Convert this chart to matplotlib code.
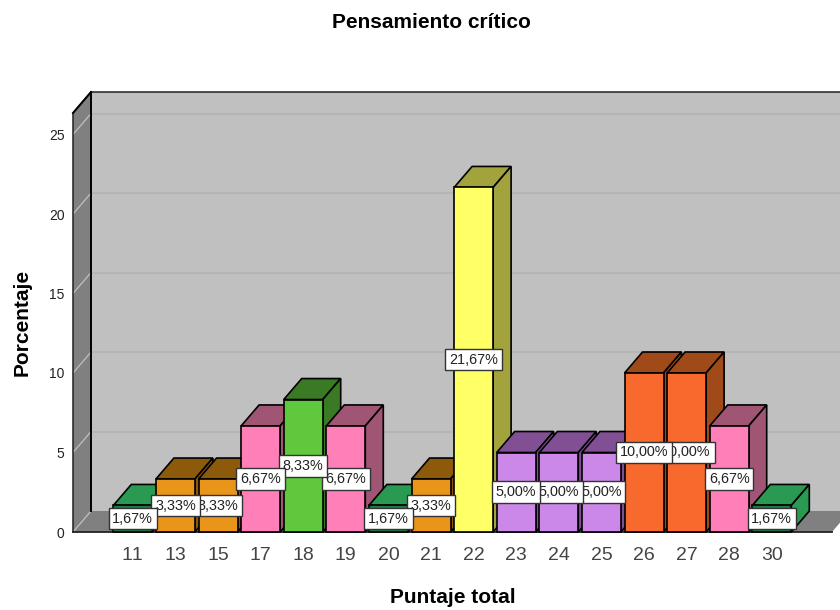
"""
Pensamiento critico - 3D style bar chart (percent per total score)
"""

import matplotlib
matplotlib.use("Agg")
import matplotlib.pyplot as plt
from matplotlib.patches import Polygon

plt.rcParams["font.family"] = ["Liberation Sans", "DejaVu Sans"]
plt.rcParams["text.kerning_factor"] = 6

# ── data ──────────────────────────────────────
puntajes = ["11", "13", "15", "17", "18", "19", "20", "21",
            "22", "23", "24", "25", "26", "27", "28", "30"]
porcentajes = [1.67, 3.33, 3.33, 6.67, 8.33, 6.67, 1.67, 3.33,
               21.67, 5.00, 5.00, 5.00, 10.00, 10.00, 6.67, 1.67]
y_ticks = [0, 5, 10, 15, 20, 25]

# ── colours (front, top/side) ─────────────────
VERDE = ("#1f7a45", "#2a9a52")
NARANJA = ("#e8951a", "#8c5a0a")
ROSA = ("#ff80b8", "#a05575")
LIMA = ("#5fc83c", "#3a7a25")
AMARILLO = ("#ffff66", "#a3a33d")
LILA = ("#cc88e8", "#804f94")
ROJIZO = ("#f7692c", "#a04a1a")
colores = [VERDE, NARANJA, NARANJA, ROSA, LIMA, ROSA, VERDE, NARANJA,
           AMARILLO, LILA, LILA, LILA, ROJIZO, ROJIZO, ROSA, VERDE]

# ── layout in pixels, turned into data units below ──
W, H = 840, 610
LEFT, RIGHT, BASE, TOP = 73, 832, 532, 113
PX_X = 42.6    # px per category
PX_Y = 15.9    # px per percent
FIRST = 132.8  # px centre of first bar
dx = 18 / PX_X
dy = 21 / PX_Y
BAR_W = 39 / PX_X

fig = plt.figure(figsize=(W / 100, H / 100), dpi=100, facecolor="white")
ax = fig.add_axes([LEFT / W, 1 - BASE / H, (RIGHT - LEFT) / W, (BASE - TOP) / H])
x0, x1 = (LEFT - FIRST) / PX_X, (RIGHT - FIRST) / PX_X
y1 = (BASE - TOP) / PX_Y
ax.set_xlim(x0, x1)
ax.set_ylim(0, y1)
for s in ax.spines.values():
    s.set_visible(False)
ax.patch.set_visible(False)


def poly(pts, fc, ec="none", lw=0, z=1):
    ax.add_patch(Polygon(pts, closed=True, facecolor=fc, edgecolor=ec, linewidth=lw,
                         zorder=z, clip_on=False, joinstyle="miter"))


# walls and floor
poly([(x0 + dx, dy), (x1 + dx, dy), (x1 + dx, y1 + dy), (x0 + dx, y1 + dy)], "#c0c0c0")
poly([(x0, 0), (x0 + dx, dy), (x0 + dx, y1 + dy), (x0, y1)], "#808080")
poly([(x0, 0), (x1, 0), (x1 + dx, dy), (x0 + dx, dy)], "#808080")

# gridlines, back wall and side wall
for t in y_ticks:
    if t > 0:
        ax.plot([x0 + dx, x1 + dx], [t + dy, t + dy], color="#b2b2b2", lw=1.1, zorder=2, clip_on=False)
    ax.plot([x0, x0 + dx], [t, t + dy], color="#c0c0c0", lw=0.9, zorder=2, clip_on=False)

# wall outlines
ax.plot([x0, x0, x0 + dx, x1 + dx], [0, y1, y1 + dy, y1 + dy], color="#222222", lw=1.1, zorder=3, clip_on=False)
ax.plot([x0 + dx, x0 + dx], [dy, y1 + dy], color="black", lw=1.4, zorder=3, clip_on=False)
ax.plot([x0, x0 + dx], [y1, y1 + dy], color="black", lw=1.4, zorder=3, clip_on=False)
ax.plot([x0, x1], [0, 0], color="#222222", lw=1.3, zorder=3, clip_on=False)

# bars, left to right so the next front covers the previous side
for i, (v, (front, dark)) in enumerate(zip(porcentajes, colores)):
    z = 4 + i * 0.1
    l, r = i - BAR_W / 2, i + BAR_W / 2
    poly([(l, v), (r, v), (r + dx, v + dy), (l + dx, v + dy)], dark, "black", 1.2, z)
    poly([(r, 0), (r + dx, dy), (r + dx, v + dy), (r, v)], dark, "black", 1.2, z)
    ax.bar(i, v, width=BAR_W, color=front, edgecolor="black", linewidth=1.2, zorder=z + 0.05, clip_on=False)

# value labels, the earlier box stays on top
for i, v in enumerate(porcentajes):
    txt = f"{v:.2f}%".replace(".", ",")
    ax.text(i, v / 2, txt, ha="center", va="center", fontsize=10.4, color="#222222", zorder=20 - i * 0.1,
            bbox=dict(boxstyle="square,pad=0.26", facecolor="white", edgecolor="#333333", linewidth=1.0))

ax.set_xticks(range(len(puntajes)), puntajes, fontsize=14, color="#444444")
ax.set_yticks(y_ticks, [str(t) for t in y_ticks], fontsize=10, color="#222222")
ax.tick_params(axis="x", length=0, pad=11)
ax.tick_params(axis="y", length=0, pad=6)

ax.set_xlabel("Puntaje total", fontsize=15, fontweight="bold", labelpad=0)
ax.xaxis.set_label_coords(0.5, -56 / (BASE - TOP))
ax.set_ylabel("Porcentaje", fontsize=15, fontweight="bold")
ax.yaxis.set_label_coords(-41 / (RIGHT - LEFT), 0.5)
fig.text(431 / W, 1 - 22.5 / H, "Pensamiento crítico", ha="center", va="center",
         fontsize=15, fontweight="bold")

plt.savefig("out.png", dpi=100)
